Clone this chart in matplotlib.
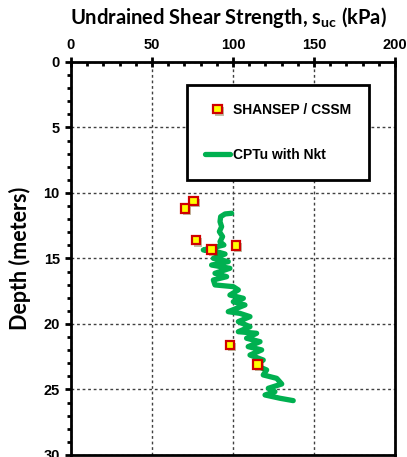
import matplotlib
matplotlib.use('Agg')
import matplotlib.pyplot as plt
import matplotlib.patheffects as pe
from matplotlib.ticker import MultipleLocator

# Datos: resistencia al corte no drenada vs profundidad
shansep_su = [75.5, 70.4, 77.2, 86.8, 101.9, 98.1, 115.0]
shansep_z = [10.6, 11.2, 13.6, 14.3, 14.0, 21.6, 23.1]

cptu_su = [99.2, 95.1, 92.4, 92.0, 93.0, 91.6, 93.6, 92.0, 94.4, 81.7,
           89.9, 95.1, 87.9, 97.1, 86.8, 98.1, 88.9, 96.1, 87.9, 88.9,
           100.2, 103.3, 98.1, 106.4, 100.2, 107.4, 97.1, 104.3, 110.5, 103.3,
           110.5, 103.3, 114.6, 108.4, 116.7, 109.4, 117.7, 110.5, 118.7, 113.6,
           120.8, 118.7, 127.0, 130.1, 121.8, 125.9, 119.8, 129.0, 137.2]
cptu_z = [11.55, 11.60, 11.81, 12.19, 12.57, 12.95, 13.33, 13.72, 13.97, 14.35,
          14.48, 14.66, 14.99, 15.24, 15.50, 15.75, 16.13, 16.39, 16.64, 17.02,
          17.15, 17.40, 17.79, 18.04, 18.30, 18.55, 19.06, 19.19, 19.44, 19.82,
          20.21, 20.59, 20.71, 21.09, 21.35, 21.73, 21.98, 22.37, 22.75, 23.13,
          23.51, 23.89, 24.15, 24.58, 24.91, 25.17, 25.42, 25.67, 25.85]

plt.rcParams['font.family'] = ['Liberation Sans', 'DejaVu Sans']
plt.rcParams['font.weight'] = 'bold'
plt.rcParams['mathtext.fontset'] = 'custom'
plt.rcParams['mathtext.rm'] = 'Lato:bold'
plt.rcParams['mathtext.default'] = 'rm'

fig = plt.figure(figsize=(4.07, 4.57), dpi=100)
ax = fig.add_axes([0.1744, 0.0044, 0.796, 0.86])

ax.plot(cptu_su, cptu_z, color='#00B050', lw=3.8, solid_capstyle='round',
        solid_joinstyle='round', label='CPTu with Nkt', zorder=3)
ax.plot(shansep_su, shansep_z, ls='none', marker='s', ms=6.2,
        mfc='#FFFF00', mec='#D00000', mew=1.6, label='SHANSEP / CSSM', zorder=4,
        path_effects=[pe.SimplePatchShadow(offset=(1.5, -1.5), alpha=0.35), pe.Normal()])

ax.set_xlim(0, 200)
ax.set_ylim(30, 0)
ax.xaxis.tick_top()
ax.xaxis.set_major_locator(MultipleLocator(50))
ax.xaxis.set_minor_locator(MultipleLocator(10))
ax.yaxis.set_major_locator(MultipleLocator(5))
ax.yaxis.set_minor_locator(MultipleLocator(1))
ax.tick_params(axis='x', which='major', direction='inout', length=7, width=2, labelsize=10.5, pad=4)
ax.tick_params(axis='x', which='minor', direction='in', length=3, width=2)
ax.tick_params(axis='y', which='major', direction='out', length=4, width=2, labelsize=10.5, pad=4)
ax.tick_params(axis='y', which='minor', direction='out', length=3, width=2)
for tk in ax.xaxis.get_major_ticks() + ax.yaxis.get_major_ticks():
    tk.label1.set_fontweight('bold')
    tk.label2.set_fontweight('bold')
for s in ax.spines.values():
    s.set_linewidth(2)

ax.grid(True, which='major', color='#404040', ls=(0, (2, 2)), lw=1.0)

ax.set_ylabel('Depth (meters)', fontsize=15.5, fontfamily='Lato', fontweight='bold', labelpad=9)
fig.text(0.56, 0.962, r'Undrained Shear Strength, s$_{\mathregular{uc}}$ (kPa)',
         ha='center', va='center', fontsize=14.5, fontfamily='Lato', fontweight='bold')

h, l = ax.get_legend_handles_labels()
leg = ax.legend(h[::-1], l[::-1], loc='upper left', bbox_to_anchor=(0.358, 0.9415),
                frameon=True, fancybox=False, edgecolor='black', framealpha=1,
                fontsize=10, labelspacing=2.2, handlelength=1.8, handletextpad=0.2,
                borderpad=1.3, borderaxespad=0, numpoints=1)
leg.get_frame().set_linewidth(2)
for t in leg.get_texts():
    t.set_fontweight('bold')

plt.savefig('out.png', dpi=100)
